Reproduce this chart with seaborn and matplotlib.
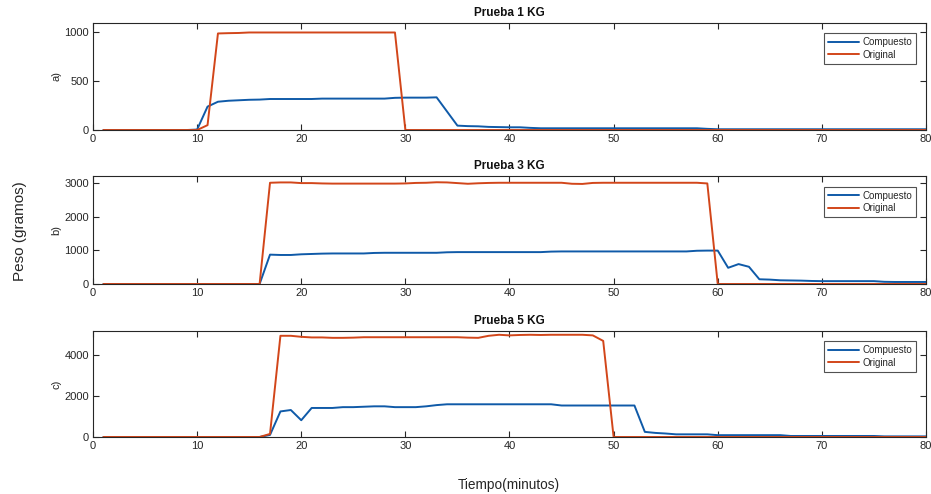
import numpy as np
import pandas as pd
import matplotlib
matplotlib.use("Agg")
import matplotlib.pyplot as plt
import seaborn as sns

minutes = list(range(1, 81))

p1_original = [0]*10 + [50, 990, 993, 995] + [1000]*15 + [0]*51
p1_compuesto = ([0]*9 + [5, 240, 290, 300, 305, 310, 312, 318, 318, 318, 318, 318]
                + [322]*7 + [330, 332, 332, 332, 335, 190, 45, 40, 38, 32, 30, 28, 28, 22]
                + [18]*16 + [12] + [8]*21)

p2_original = ([0]*16 + [3000, 3010, 3010, 2990, 2990, 2980] + [2975]*7
               + [2980, 2995, 3000, 3015, 3010, 2990, 2970, 2985, 2995] + [3000]*7
               + [2970, 2965, 2995] + [3000]*10 + [2980] + [0]*21)
p2_compuesto = ([0]*16 + [870, 860, 860, 880, 890, 900] + [905]*4 + [920] + [925]*6
                + [940] + [945]*9 + [960] + [965]*13 + [985, 990, 990, 480, 590, 510, 140, 130,
                110, 105, 100, 90] + [85]*6 + [65] + [60]*4)

p3_original = ([0]*16 + [150, 4950, 4950, 4900, 4870, 4870, 4850, 4850, 4860, 4880] + [4880]*9
               + [4860, 4850, 4950, 5000, 4970, 4990, 5000, 4990] + [5000]*4 + [4970, 4700] + [0]*31)
p3_compuesto = ([0]*16 + [100, 1250, 1320, 820, 1420, 1420, 1420, 1460, 1460, 1480, 1500, 1500,
                1460, 1460, 1460, 1500, 1560, 1600] + [1600]*10 + [1540]*8
                + [250, 200, 170] + [130]*4 + [90]*7 + [50]*9 + [30]*5)

titles = ["Prueba 1 KG", "Prueba 3 KG", "Prueba 5 KG"]
panel_labels = ["a)", "b)", "c)"]
yticks = [[0, 500, 1000], [0, 1000, 2000, 3000], [0, 2000, 4000]]
ylims = [1100, 3200, 5200]
series_names = ["Compuesto", "Original"]

sns.set_style("ticks")
plt.rcParams['font.family'] = ['Liberation Sans', 'DejaVu Sans']

blue = "#0f5aa8"
red = "#d2461a"

fig = plt.figure(figsize=(9.31, 4.94), dpi=100)
left, width = 0.0999, 0.8947
boxes = [(0.7368, 0.954 - 0.7368), (0.4251, 0.6437 - 0.4251), (0.1154, 0.3306 - 0.1154)]
data = [(p1_compuesto, p1_original), (p2_compuesto, p2_original), (p3_compuesto, p3_original)]

for i, ((bottom, h), (comp, orig)) in enumerate(zip(boxes, data)):
    ax = fig.add_axes([left, bottom, width, h])
    df = pd.DataFrame({"Tiempo": minutes * 2,
                       "Peso": list(comp) + list(orig),
                       "Serie": [series_names[0]]*80 + [series_names[1]]*80})
    sns.lineplot(data=df, x="Tiempo", y="Peso", hue="Serie", palette=[blue, red],
                 linewidth=1.4, ax=ax)
    ax.set_xlim(0, 80)
    ax.set_ylim(0, ylims[i])
    ax.set_xticks(range(0, 81, 10))
    ax.set_yticks(yticks[i])
    ax.tick_params(direction="in", length=4, width=0.8, labelsize=8, colors="#262626",
                   top=True, right=True, pad=3)
    for s in ax.spines.values():
        s.set_color("#262626")
        s.set_linewidth(0.8)
    ax.set_xlabel("")
    ax.set_ylabel(panel_labels[i], fontsize=8, color="#262626", labelpad=2)
    ax.set_title(titles[i], fontsize=8.5, fontweight="bold", color="#111111", pad=5)
    leg = ax.legend(loc="upper right", bbox_to_anchor=(0.988, 0.9), borderaxespad=0,
                    fontsize=7, frameon=True, fancybox=False, edgecolor="#262626",
                    handlelength=3.2, borderpad=0.4, labelspacing=0.25, handletextpad=0.3)
    leg.get_frame().set_linewidth(0.8)

fig.text(0.0215, 0.532, "Peso (gramos)", rotation=90, ha="center", va="center",
         fontsize=11, color="#262626")
fig.text(0.547, 0.004, "Tiempo(minutos)", ha="center", va="bottom",
         fontsize=9.8, color="#262626")

fig.savefig("out.png", dpi=100)
